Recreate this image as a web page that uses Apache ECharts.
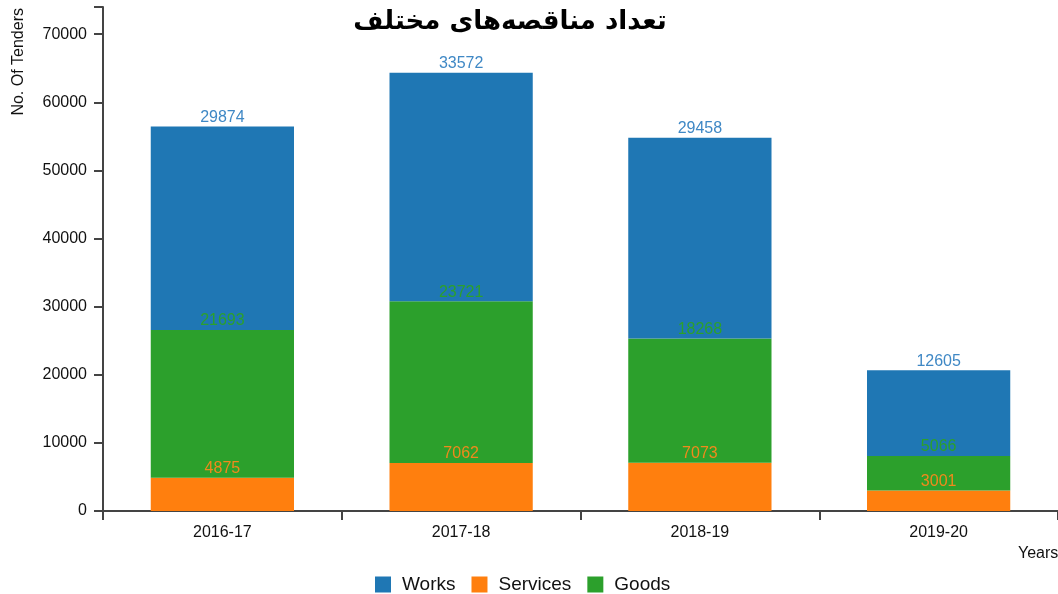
<!DOCTYPE html>
<html>
<head>
<meta charset="utf-8">
<script src="https://cdn.jsdelivr.net/npm/echarts@6/dist/echarts.min.js"></script>
<style>
  html, body { margin: 0; padding: 0; background: #fff; }
  #tenderChart { width: 1058px; height: 594px; }
</style>
</head>
<body>
<div id="tenderChart"></div>
<script>
// years on the x axis
const years = ['2016-17', '2017-18', '2018-19', '2019-20']
// stacked from bottom to top
const services = [4875, 7062, 7073, 3001]
const goods = [21693, 23721, 18268, 5066]
const works = [29874, 33572, 29458, 12605]
const yTicks = [0, 10000, 20000, 30000, 40000, 50000, 60000, 70000]

const colors = { works: '#1f77b4', services: '#ff7f0e', goods: '#2ca02c' }

const chartDom = document.getElementById('tenderChart')
const tenderChart = echarts.init(chartDom)

function segLabel(color) {
  return {
    show: true,
    position: 'top',
    distance: 1,
    color: color,
    fontSize: 16,
    fontFamily: 'Liberation Sans, Arial, sans-serif'
  }
}

const option = {
  animation: false,
  textStyle: { fontFamily: 'Liberation Sans, Arial, sans-serif' },
  title: {
    text: 'تعداد مناقصه‌های مختلف',
    left: 505,
    top: 4,
    textAlign: 'center',
    textStyle: {
      fontFamily: 'DejaVu Sans',
      fontWeight: 'bold',
      fontSize: 26,
      color: '#000'
    }
  },
  legend: {
    left: 370,
    top: 570,
    itemWidth: 16,
    itemHeight: 16,
    itemGap: 16,
    icon: 'rect',
    textStyle: { fontSize: 19, color: '#111', padding: [0, 0, 0, 6] },
    data: ['Works', 'Services', 'Goods']
  },
  grid: {
    left: 103,
    right: 0,
    top: 7,
    bottom: 83
  },
  xAxis: {
    type: 'category',
    data: years,
    axisLine: { lineStyle: { color: '#444', width: 2 } },
    axisTick: { show: true, interval: 0, length: 9, lineStyle: { color: '#444', width: 2 } },
    axisLabel: { fontSize: 16, color: '#111', margin: 14 }
  },
  yAxis: {
    type: 'value',
    min: 0,
    max: 74000,
    interval: 10000,
    splitLine: { show: false },
    axisLine: { show: true, lineStyle: { color: '#444', width: 2 } },
    axisTick: { show: true, length: 9, lineStyle: { color: '#444', width: 2 } },
    axisLabel: {
      fontSize: 16,
      color: '#111',
      margin: 16,
      customValues: yTicks,
      formatter: v => String(v)
    }
  },
  graphic: [
    {
      type: 'text',
      x: 11,
      y: 8,
      rotation: Math.PI / 2,
      style: {
        text: 'No. Of Tenders',
        fontSize: 16,
        fill: '#111',
        align: 'right',
        verticalAlign: 'top',
        fontFamily: 'Liberation Sans, Arial, sans-serif'
      }
    },
    {
      type: 'text',
      x: 1018,
      y: 546,
      style: {
        text: 'Years',
        fontSize: 16,
        fill: '#111',
        fontFamily: 'Liberation Sans, Arial, sans-serif'
      }
    }
  ],
  series: [
    {
      name: 'Services',
      type: 'bar',
      stack: 'total',
      barWidth: '60%',
      data: services,
      itemStyle: { color: colors.services },
      label: segLabel('#f08a1c')
    },
    {
      name: 'Goods',
      type: 'bar',
      stack: 'total',
      barWidth: '60%',
      data: goods,
      itemStyle: { color: colors.goods },
      label: segLabel('#2ca02c')
    },
    {
      name: 'Works',
      type: 'bar',
      stack: 'total',
      barWidth: '60%',
      data: works,
      itemStyle: { color: colors.works },
      label: segLabel('#3f88c5')
    }
  ]
}

tenderChart.setOption(option)
</script>
</body>
</html>
